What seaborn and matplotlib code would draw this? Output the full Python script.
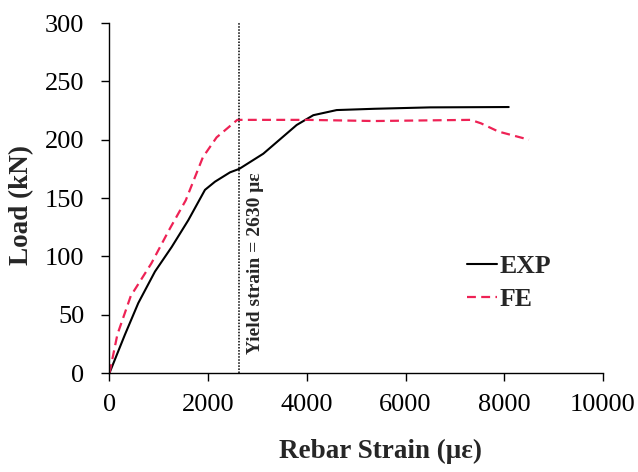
import matplotlib
matplotlib.use("Agg")
import matplotlib.pyplot as plt
import seaborn as sns
import pandas as pd

exp_strain = [0, 314, 584, 922, 1260, 1597, 1935, 2138, 2442, 2630, 3117, 3793, 4130, 4604, 5370, 6494, 8090]
exp_load = [0, 33, 60, 87, 108, 131, 157, 164, 172, 175, 188, 212.6, 221, 225.4, 226.5, 227.7, 228]
fe_strain = [0, 160, 431, 849, 1200, 1545, 1893, 2171, 2590, 4000, 5370, 7320, 7530, 7880, 8500]
fe_load = [0, 33, 66, 94, 122, 148, 185, 202, 217, 217, 216, 217, 214, 207, 200]
yield_strain = 2630
x_ticks = [0, 2000, 4000, 6000, 8000, 10000]
y_ticks = [0, 50, 100, 150, 200, 250, 300]

sns.set_theme(style="white")
plt.rcParams['font.family'] = ['Liberation Serif', 'DejaVu Serif']

df_exp = pd.DataFrame({"strain": exp_strain, "load": exp_load})
df_fe = pd.DataFrame({"strain": fe_strain, "load": fe_load})

fig = plt.figure(figsize=(6.38, 4.72), dpi=100)
ax = fig.add_axes([0.1716, 0.2097, 0.7735, 0.7415])

sns.lineplot(data=df_exp, x="strain", y="load", sort=False, color="black", linewidth=1.5, ax=ax, label="EXP")
sns.lineplot(data=df_fe, x="strain", y="load", sort=False, color="#ee2255", linewidth=1.6, ax=ax, label="FE")
ax.lines[1].set_dashes([4, 2.4])

ax.axvline(yield_strain, color="black", linestyle=(0, (1.0, 1.0)), linewidth=1.1)
ax.text(yield_strain + 160, 16, "Yield strain = 2630 \u03bc\u03b5", rotation=90, ha="left", va="bottom",
        fontsize=14, fontweight="bold")

ax.set_xlim(0, 10000)
ax.set_ylim(0, 300)
ax.set_xticks(x_ticks)
ax.set_yticks(y_ticks)
ax.tick_params(axis="both", labelsize=19, direction="out", length=6, width=1, color="black", colors="black",
               bottom=True, left=True)
ax.tick_params(axis="y", pad=12)
ax.tick_params(axis="x", pad=9)
sns.despine(ax=ax)
for s in ["left", "bottom"]:
    ax.spines[s].set_color("black")
    ax.spines[s].set_linewidth(1.0)

ax.set_xlabel("Rebar Strain (\u03bc\u03b5)", fontsize=19.5, fontweight="bold", va="center")
ax.set_ylabel("Load (kN)", fontsize=19.5, fontweight="bold", va="center")
ax.xaxis.set_label_coords(0.55, -0.223)
ax.yaxis.set_label_coords(-0.179, 0.48)

leg = ax.legend(loc="center left", bbox_to_anchor=(0.724, 0.257), frameon=False, handlelength=1.17,
                handletextpad=0.12, labelspacing=0.4, borderpad=0, borderaxespad=0,
                prop={"weight": "bold", "size": 18.5})

fig.savefig("out.png", dpi=100)
